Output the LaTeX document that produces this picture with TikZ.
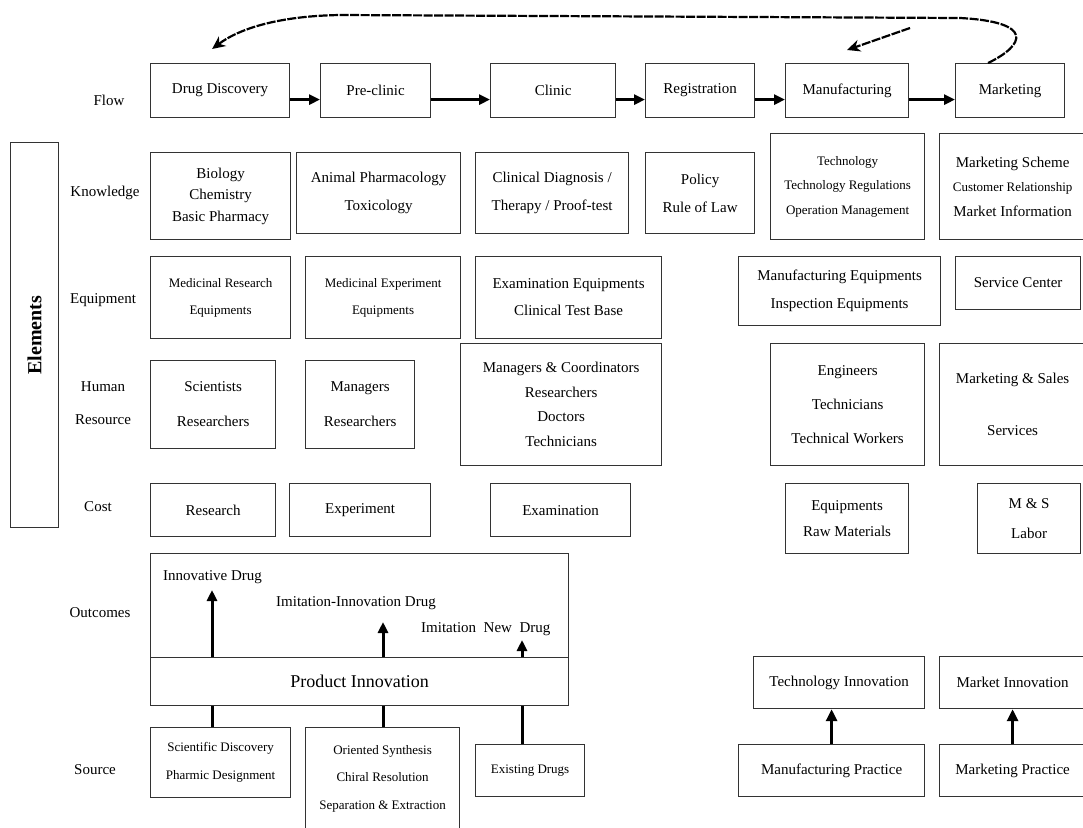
\documentclass[tikz,border=0pt]{standalone}
\usepackage{fontspec}
\setmainfont{Liberation Serif}
\usetikzlibrary{arrows.meta}

\newcommand{\sz}[2]{\fontsize{#1}{#2}\selectfont}

\begin{document}
\begin{tikzpicture}[x=1pt, y=-1pt]
    % Define styles for blocks and arrows
    \tikzstyle{cell} = [rectangle, draw=black!80, line width=1.2pt, anchor=north west, align=center, inner sep=0pt, font=\sz{15}{18}]
    \tikzstyle{lbl} = [align=center, font=\sz{15}{33}]
    \tikzstyle{txt} = [anchor=west, inner sep=3pt, font=\sz{15}{18}]
    \tikzstyle{arrow} = [line width=3pt, -{Triangle[length=11pt,width=10pt]}]
    \tikzstyle{bigarrow} = [line width=3.6pt, -{Triangle[length=12pt,width=11pt]}]
    \tikzstyle{stem} = [line width=3pt]
    \tikzstyle{backarrow} = [line width=2.2pt, dash pattern=on 9pt off 1.5pt, -{Stealth[length=13pt,width=12pt]}]

    \useasboundingbox (0,0) rectangle (1083,827);
    \fill [white] (0,0) rectangle (1083,827);

    % Elements
    \node (elem) [cell, minimum width=48, minimum height=385] at (10,142) {};
    \node (elemtext) [rotate=90, font=\bfseries\sz{20}{24}] at (elem.center) {Elements};

    % Flow
    \node (flow) [lbl] at (109,100) {Flow};
    \node (disc) [cell, minimum width=139, minimum height=54] at (150,63) {Drug Discovery};
    \node (precl) [cell, minimum width=110, minimum height=54] at (320,63) {Pre-clinic};
    \node (clinic) [cell, minimum width=125, minimum height=54] at (490,63) {Clinic};
    \node (regis) [cell, minimum width=109, minimum height=54] at (645,63) {Registration};
    \node (manuf) [cell, minimum width=123, minimum height=54] at (785,63) {Manufacturing};
    \node (market) [cell, minimum width=109, minimum height=54] at (955,63) {Marketing};

    % Knowledge
    \node (know) [lbl] at (105,193) {Knowledge};
    \node (bio) [cell, minimum width=140, minimum height=87, font=\sz{15}{21.5}] at (150,152) {Biology\\Chemistry\\Basic Pharmacy};
    \node (animal) [cell, minimum width=164, minimum height=81, font=\sz{15}{28}] at (296,152) {Animal Pharmacology\\Toxicology};
    \node (diag) [cell, minimum width=153, minimum height=81, font=\sz{15}{28}] at (475,152) {Clinical Diagnosis /\\Therapy / Proof-test};
    \node (policy) [cell, minimum width=109, minimum height=81, font=\sz{15}{28}] at (645,152) {Policy\\Rule of Law};
    \node (techk) [cell, minimum width=154, minimum height=106, font=\sz{13}{24.5}] at (770,133) {Technology\\Technology Regulations\\Operation Management};
    \node (scheme) [cell, minimum width=146, minimum height=106, font=\sz{15}{24.5}] at (939,133) {Marketing Scheme\\{\sz{13}{24.5}Customer Relationship}\\Market Information};

    % Equipment
    \node (equip) [lbl] at (103,300) {Equipment};
    \node (resequip) [cell, minimum width=140, minimum height=82, font=\sz{13}{27}] at (150,256) {Medicinal Research\\Equipments};
    \node (expequip) [cell, minimum width=155, minimum height=82, font=\sz{13}{27}] at (305,256) {Medicinal Experiment\\Equipments};
    \node (examequip) [cell, minimum width=186, minimum height=82, font=\sz{15}{27}] at (475,256) {Examination Equipments\\Clinical Test Base};
    \node (manufequip) [cell, minimum width=202, minimum height=69, font=\sz{15}{28}] at (738,256) {Manufacturing Equipments\\Inspection Equipments};
    \node (service) [cell, minimum width=125, minimum height=53] at (955,256) {Service Center};

    % Human resource
    \node (human) [lbl] at (103,403) {Human\\Resource};
    \node (scient) [cell, minimum width=125, minimum height=88, font=\sz{15}{35}] at (150,360) {Scientists\\Researchers};
    \node (manag) [cell, minimum width=109, minimum height=88, font=\sz{15}{35}] at (305,360) {Managers\\Researchers};
    \node (coord) [cell, minimum width=201, minimum height=122, font=\sz{15}{24.5}] at (460,343) {Managers \& Coordinators\\Researchers\\Doctors\\Technicians};
    \node (engin) [cell, minimum width=154, minimum height=122, font=\sz{15}{34}] at (770,343) {Engineers\\Technicians\\Technical Workers};
    \node (sales) [cell, minimum width=146, minimum height=122, font=\sz{15}{52}] at (939,343) {Marketing \& Sales\\Services};

    % Cost
    \node (cost) [lbl] at (98,507) {Cost};
    \node (research) [cell, minimum width=125, minimum height=53] at (150,483) {Research};
    \node (experim) [cell, minimum width=141, minimum height=53] at (289,483) {Experiment};
    \node (exam) [cell, minimum width=140, minimum height=53] at (490,483) {Examination};
    \node (rawmat) [cell, minimum width=123, minimum height=70, font=\sz{15}{26}] at (785,483) {Equipments\\Raw Materials};
    \node (labor) [cell, minimum width=103, minimum height=70, font=\sz{15}{30}] at (977,483) {M \& S\\Labor};

    % Outcomes
    \node (outc) [lbl] at (100,613) {Outcomes};
    \node (outbox) [cell, minimum width=418, minimum height=104] at (150,553) {};
    \node (prodinn) [cell, minimum width=418, minimum height=48, font=\sz{18}{20}] at (150,657) {Product Innovation};
    \node (innov) [txt] at (160,577) {Innovative Drug};
    \node (imitinn) [txt] at (273,603) {Imitation-Innovation Drug};
    \node (imitnew) [txt] at (418,629) {Imitation\ \ New\ \ Drug};
    \coordinate (tip1) at (212,590);
    \coordinate (tip2) at (383,622);
    \coordinate (tip3) at (522,640);

    % Source
    \node (source) [lbl] at (95,770) {Source};
    \node (scidisc) [cell, minimum width=140, minimum height=70, font=\sz{13}{28}] at (150,727) {Scientific Discovery\\Pharmic Designment};
    \node (synth) [cell, minimum width=154, minimum height=102, font=\sz{13}{27.5}] at (305,727) {Oriented Synthesis\\Chiral Resolution\\Separation \& Extraction};
    \node (existing) [cell, minimum width=109, minimum height=52, font=\sz{13}{15}] at (475,744) {Existing Drugs};

    % Innovation from practice
    \node (techinn) [cell, minimum width=171, minimum height=52] at (753,656) {Technology Innovation};
    \node (mktinn) [cell, minimum width=146, minimum height=52] at (939,656) {Market Innovation};
    \node (manprac) [cell, minimum width=186, minimum height=52] at (738,744) {Manufacturing Practice};
    \node (mktprac) [cell, minimum width=146, minimum height=52] at (939,744) {Marketing Practice};

    % Arrows
    \draw [arrow] ([yshift=-9]disc.east) -- ([yshift=-9]precl.west);
    \draw [arrow] ([yshift=-9]precl.east) -- ([yshift=-9]clinic.west);
    \draw [arrow] ([yshift=-9]clinic.east) -- ([yshift=-9]regis.west);
    \draw [arrow] ([yshift=-9]regis.east) -- ([yshift=-9]manuf.west);
    \draw [arrow] ([yshift=-9]manuf.east) -- ([yshift=-9]market.west);

    \coordinate (fork) at (910,28);
    \draw [backarrow] ([xshift=-22]market.north) .. controls (1025,45) and (1035,22) .. (960,18) -- (340,15) .. controls (280,16) and (240,28) .. ([xshift=-8,yshift=14]disc.north);
    \draw [backarrow] (fork) -- ([yshift=13]manuf.north);

    \draw [arrow] (tip1 |- prodinn.north) -- (tip1);
    \draw [arrow] (tip2 |- prodinn.north) -- (tip2);
    \draw [arrow] (tip3 |- prodinn.north) -- (tip3);
    \draw [stem] (tip1 |- prodinn.south) -- (tip1 |- scidisc.north);
    \draw [stem] (tip2 |- prodinn.south) -- (tip2 |- synth.north);
    \draw [stem] (tip3 |- prodinn.south) -- (tip3 |- existing.north);

    \draw [bigarrow] (manprac.north) -- (manprac.north |- techinn.south);
    \draw [bigarrow] (mktprac.north) -- (mktprac.north |- mktinn.south);

\end{tikzpicture}
\end{document}
